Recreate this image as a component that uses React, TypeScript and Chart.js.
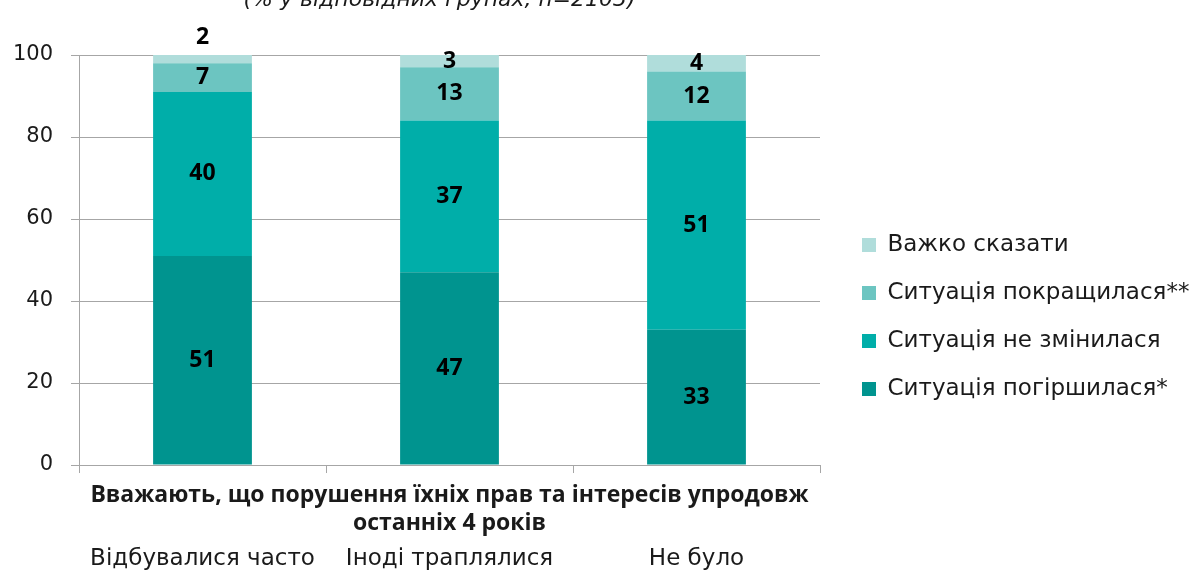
import React, { useEffect, useRef } from 'react';
import { Chart, registerables } from 'chart.js';
Chart.register(...registerables);

const categories = ['Відбувалися часто', 'Іноді траплялися', 'Не було'];
const seriesNames = ['Ситуація погіршилася*', 'Ситуація не змінилася', 'Ситуація покращилася**', 'Важко сказати'];
const worse = [51, 47, 33];
const same = [40, 37, 51];
const better = [7, 13, 12];
const hard = [2, 3, 4];
const seriesValues = [worse, same, better, hard];
const colors = ['#00948F', '#00AEA9', '#6CC5C1', '#B0DDDB'];
const axisTitle = ['Вважають, що порушення їхніх прав та інтересів упродовж', 'останніх 4 років'];
const topTitle = '(% у відповідних групах, n=2103)';

const FONT = '"DejaVu Sans", sans-serif';
const BOLD = '"Open Sans", sans-serif';
const TEXT = '#1a1a1a';

const labelPlugin = {
  id: 'segLabels',
  afterDatasetsDraw(chart: any) {
    const ctx = chart.ctx;
    ctx.save();
    ctx.font = `bold 23px ${BOLD}`;
    ctx.fillStyle = '#000';
    ctx.textAlign = 'center';
    ctx.textBaseline = 'middle';
    chart.data.datasets.forEach((ds: any, di: number) => {
      const meta = chart.getDatasetMeta(di);
      meta.data.forEach((bar: any, i: number) => {
        const v = ds.data[i];
        let y = (bar.y + bar.base) / 2;
        if (v <= 2) y = bar.y - 18;
        ctx.fillText(String(v), bar.x, y);
      });
    });
    ctx.restore();
  },
};

const topTitlePlugin = {
  id: 'topTitle',
  afterDraw(chart: any) {
    const ctx = chart.ctx;
    const a = chart.chartArea;
    ctx.save();
    ctx.font = `italic 22px ${FONT}`;
    ctx.fillStyle = TEXT;
    ctx.textAlign = 'center';
    ctx.textBaseline = 'alphabetic';
    ctx.fillText(topTitle, (a.left + a.right) / 2 - 10, 6);
    ctx.restore();
  },
};

const legendShiftPlugin = {
  id: 'legendShift',
  afterLayout(chart: any) {
    const lg = chart.legend;
    if (!lg) return;
    const dx = chart.chartArea.right + 42 - 25 - lg.left;
    lg.left += dx;
    lg.right = chart.width;
    lg.width = lg.right - lg.left;
    lg.top += 4.5;
    lg.bottom += 4.5;
  },
};

export default function App() {
  const ref = useRef<HTMLCanvasElement>(null);
  useEffect(() => {
    document.body.style.margin = '0';
    const chart = new Chart(ref.current!, {
      type: 'bar',
      data: {
        labels: categories,
        datasets: seriesNames.map((name, i) => ({
          label: name,
          data: seriesValues[i],
          backgroundColor: colors[i],
          borderWidth: 0,
          barPercentage: 0.4,
          categoryPercentage: 1,
          xAxisID: 'x',
        })),
      },
      options: {
        responsive: false,
        animation: false,
        layout: { padding: { top: 55, left: 13, right: 109, bottom: 0 } },
        plugins: {
          legend: {
            position: 'right',
            reverse: true,
            labels: {
              boxWidth: 14,
              boxHeight: 14,
              padding: 25,
              color: TEXT,
              font: { family: FONT, size: 23 },
            },
          },
          tooltip: { enabled: false },
          title: { display: false },
        },
        scales: {
          x: {
            stacked: true,
            grid: { drawOnChartArea: false, drawTicks: true, tickLength: 8, color: '#A6A6A6', offset: true },
            border: { color: '#A6A6A6' },
            ticks: { display: false },
            title: {
              display: true,
              text: axisTitle,
              color: TEXT,
              font: { family: BOLD, size: 23, weight: 'bold', lineHeight: 1.217 },
              padding: { top: 8, bottom: 0 },
            },
          },
          x2: {
            type: 'category',
            labels: categories,
            position: 'bottom',
            offset: true,
            grid: { display: false },
            border: { display: false },
            ticks: { color: TEXT, font: { family: FONT, size: 23 }, padding: 0 },
            afterFit: (scale: any) => {
              scale.height = 33;
            },
          },
          y: {
            stacked: true,
            min: 0,
            max: 100,
            ticks: { stepSize: 20, color: TEXT, font: { family: FONT, size: 21 }, padding: 18 },
            grid: { color: '#A6A6A6', tickLength: 8 },
            border: { color: '#A6A6A6' },
            afterFit: (scale: any) => {
              scale.width = 66;
            },
          },
        },
      },
      plugins: [labelPlugin, topTitlePlugin, legendShiftPlugin],
    });
    return () => chart.destroy();
  }, []);
  return <canvas ref={ref} width={1198} height={570} />;
}
